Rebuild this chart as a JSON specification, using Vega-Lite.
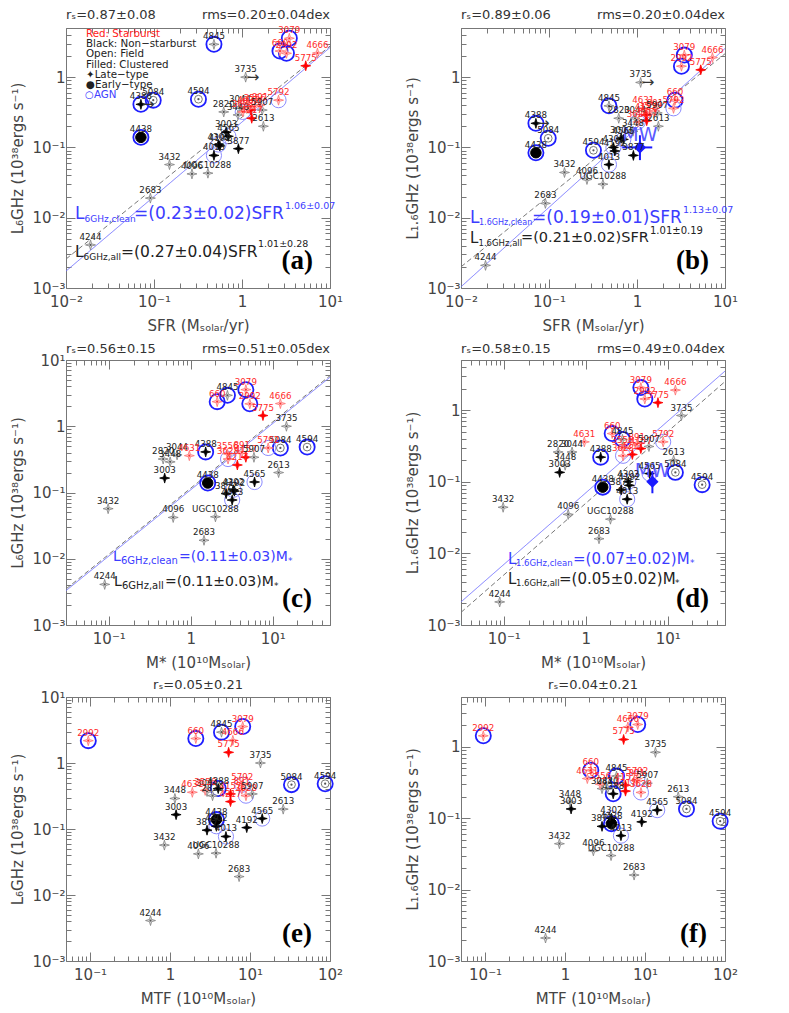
{
"$schema": "https://vega.github.io/schema/vega-lite/v6.json",
"padding": {"left": 10, "top": 8, "right": 5, "bottom": 5},
"background": "white",
"config": {
  "view": {"stroke": "#777777", "strokeWidth": 1},
  "axis": {"labelFont": "DejaVu Sans", "labelFontSize": 15, "labelColor": "#444444", "titleFont": "DejaVu Sans", "titleFontSize": 15, "titleFontWeight": "normal", "titleColor": "#444444", "tickColor": "#777777", "domain": false, "grid": false, "labelOverlap": false, "labelFlush": false, "tickSize": {"condition": {"test": "indexof([0.001,0.01,0.1,1,10,100], datum.value) >= 0", "value": -9}, "value": -5}},
  "text": {"font": "DejaVu Sans"}
},
"datasets": {
  "gal": [
    {"name": "660", "sfr": 2.7, "l6": 2.35, "l16": 0.47, "ms": 2.1, "mtf": 2.1, "sb": "Starburst", "env": "Field", "type": "Late", "agn": "strong", "lim": false},
    {"name": "891", "sfr": 1.6, "l6": 0.4, "l16": 0.33, "ms": 4.2, "mtf": 7.9, "sb": "Starburst", "env": "Field", "type": "Late", "agn": "none", "lim": false},
    {"name": "2613", "sfr": 1.75, "l6": 0.2, "l16": 0.2, "ms": 11.8, "mtf": 26, "sb": "Non", "env": "Field", "type": "Late", "agn": "none", "lim": false},
    {"name": "2683", "sfr": 0.091, "l6": 0.019, "l16": 0.016, "ms": 1.45, "mtf": 7.3, "sb": "Non", "env": "Field", "type": "Late", "agn": "none", "lim": false},
    {"name": "2820", "sfr": 0.62, "l6": 0.32, "l16": 0.26, "ms": 0.46, "mtf": 3.4, "sb": "Non", "env": "Field", "type": "Late", "agn": "none", "lim": false},
    {"name": "2992", "sfr": 3.2, "l6": 2.18, "l16": 1.43, "ms": 5.25, "mtf": 0.095, "sb": "Starburst", "env": "Field", "type": "Late", "agn": "strong", "lim": false},
    {"name": "3003", "sfr": 0.66, "l6": 0.165, "l16": 0.135, "ms": 0.48, "mtf": 1.19, "sb": "Non", "env": "Clustered", "type": "Late", "agn": "none", "lim": false},
    {"name": "3044", "sfr": 0.95, "l6": 0.37, "l16": 0.26, "ms": 0.68, "mtf": 2.9, "sb": "Non", "env": "Field", "type": "Late", "agn": "none", "lim": false},
    {"name": "3079", "sfr": 3.45, "l6": 3.57, "l16": 2.06, "ms": 4.7, "mtf": 8.1, "sb": "Starburst", "env": "Field", "type": "Late", "agn": "strong", "lim": false},
    {"name": "3432", "sfr": 0.15, "l6": 0.057, "l16": 0.044, "ms": 0.098, "mtf": 0.85, "sb": "Non", "env": "Field", "type": "Late", "agn": "none", "lim": false},
    {"name": "3448", "sfr": 0.9, "l6": 0.29, "l16": 0.17, "ms": 0.56, "mtf": 1.15, "sb": "Non", "env": "Field", "type": "Late", "agn": "none", "lim": false},
    {"name": "3556", "sfr": 1.4, "l6": 0.385, "l16": 0.3, "ms": 2.8, "mtf": 2.75, "sb": "Starburst", "env": "Field", "type": "Late", "agn": "none", "lim": false},
    {"name": "3628", "sfr": 1.02, "l6": 0.32, "l16": 0.23, "ms": 2.85, "mtf": 8.9, "sb": "Starburst", "env": "Field", "type": "Late", "agn": "weak", "lim": false},
    {"name": "3735", "sfr": 1.1, "l6": 1.0, "l16": 0.84, "ms": 14.7, "mtf": 13.5, "sb": "Non", "env": "Field", "type": "Late", "agn": "none", "lim": true},
    {"name": "3877", "sfr": 0.91, "l6": 0.096, "l16": 0.077, "ms": 2.7, "mtf": 2.9, "sb": "Non", "env": "Clustered", "type": "Late", "agn": "none", "lim": false},
    {"name": "4013", "sfr": 0.48, "l6": 0.077, "l16": 0.057, "ms": 3.2, "mtf": 5.0, "sb": "Non", "env": "Clustered", "type": "Late", "agn": "weak", "lim": false},
    {"name": "4096", "sfr": 0.27, "l6": 0.042, "l16": 0.035, "ms": 0.61, "mtf": 2.26, "sb": "Non", "env": "Field", "type": "Late", "agn": "none", "lim": false},
    {"name": "4157", "sfr": 1.26, "l6": 0.34, "l16": 0.29, "ms": 4.7, "mtf": 5.7, "sb": "Starburst", "env": "Clustered", "type": "Late", "agn": "none", "lim": false},
    {"name": "4192", "sfr": 0.56, "l6": 0.105, "l16": 0.089, "ms": 3.4, "mtf": 9.1, "sb": "Non", "env": "Clustered", "type": "Late", "agn": "none", "lim": false},
    {"name": "4217", "sfr": 1.29, "l6": 0.26, "l16": 0.24, "ms": 3.7, "mtf": 5.7, "sb": "Starburst", "env": "Clustered", "type": "Late", "agn": "none", "lim": false},
    {"name": "4244", "sfr": 0.019, "l6": 0.0041, "l16": 0.0021, "ms": 0.089, "mtf": 0.57, "sb": "Non", "env": "Field", "type": "Late", "agn": "none", "lim": false},
    {"name": "4302", "sfr": 0.54, "l6": 0.11, "l16": 0.1, "ms": 3.3, "mtf": 3.8, "sb": "Non", "env": "Clustered", "type": "Late", "agn": "weak", "lim": false},
    {"name": "4388", "sfr": 0.071, "l6": 0.41, "l16": 0.22, "ms": 1.52, "mtf": 4.0, "sb": "Non", "env": "Clustered", "type": "Late", "agn": "strong", "lim": true},
    {"name": "4438", "sfr": 0.071, "l6": 0.139, "l16": 0.084, "ms": 1.61, "mtf": 3.8, "sb": "Non", "env": "Clustered", "type": "Early", "agn": "strong", "lim": false},
    {"name": "4565", "sfr": 0.7, "l6": 0.144, "l16": 0.13, "ms": 6.0, "mtf": 14.2, "sb": "Non", "env": "Clustered", "type": "Late", "agn": "weak", "lim": false},
    {"name": "4594", "sfr": 0.32, "l6": 0.485, "l16": 0.091, "ms": 26.3, "mtf": 87, "sb": "Non", "env": "Field", "type": "Early", "agn": "strong", "lim": false},
    {"name": "4631", "sfr": 1.18, "l6": 0.36, "l16": 0.36, "ms": 0.96, "mtf": 1.9, "sb": "Starburst", "env": "Field", "type": "Late", "agn": "none", "lim": false},
    {"name": "4666", "sfr": 7.2, "l6": 2.2, "l16": 1.9, "ms": 12.4, "mtf": 6.1, "sb": "Starburst", "env": "Field", "type": "Late", "agn": "none", "lim": false},
    {"name": "4845", "sfr": 0.48, "l6": 2.93, "l16": 0.39, "ms": 2.8, "mtf": 4.4, "sb": "Non", "env": "Field", "type": "Late", "agn": "strong", "lim": false},
    {"name": "5084", "sfr": 0.098, "l6": 0.47, "l16": 0.135, "ms": 12.4, "mtf": 33, "sb": "Non", "env": "Field", "type": "Early", "agn": "strong", "lim": false},
    {"name": "5775", "sfr": 5.3, "l6": 1.45, "l16": 1.27, "ms": 7.6, "mtf": 5.4, "sb": "Starburst", "env": "Clustered", "type": "Late", "agn": "none", "lim": false},
    {"name": "5792", "sfr": 2.6, "l6": 0.47, "l16": 0.36, "ms": 8.8, "mtf": 8.0, "sb": "Starburst", "env": "Field", "type": "Late", "agn": "weak", "lim": false},
    {"name": "5907", "sfr": 1.7, "l6": 0.34, "l16": 0.31, "ms": 5.9, "mtf": 10.7, "sb": "Non", "env": "Field", "type": "Late", "agn": "none", "lim": false},
    {"name": "UGC10288", "sfr": 0.41, "l6": 0.043, "l16": 0.03, "ms": 2.0, "mtf": 3.76, "sb": "Non", "env": "Field", "type": "Late", "agn": "none", "lim": false}
  ],
  "fits": [
    {"panel": "a", "kind": "clean", "x": 0.01, "y": 0.00174}, {"panel": "a", "kind": "clean", "x": 10, "y": 2.64},
    {"panel": "a", "kind": "all", "x": 0.01, "y": 0.00258}, {"panel": "a", "kind": "all", "x": 10, "y": 2.76},
    {"panel": "b", "kind": "clean", "x": 0.01, "y": 0.00104}, {"panel": "b", "kind": "clean", "x": 10, "y": 2.56},
    {"panel": "b", "kind": "all", "x": 0.01, "y": 0.002}, {"panel": "b", "kind": "all", "x": 10, "y": 2.15},
    {"panel": "c", "kind": "clean", "x": 0.03, "y": 0.0033}, {"panel": "c", "kind": "clean", "x": 50, "y": 5.5},
    {"panel": "c", "kind": "all", "x": 0.03, "y": 0.0035}, {"panel": "c", "kind": "all", "x": 50, "y": 5.8},
    {"panel": "d", "kind": "clean", "x": 0.03, "y": 0.0021}, {"panel": "d", "kind": "clean", "x": 50, "y": 3.5},
    {"panel": "d", "kind": "all", "x": 0.03, "y": 0.0015}, {"panel": "d", "kind": "all", "x": 50, "y": 2.5}
  ],
  "mw": [
    {"name": "MW", "sfr": 1.08, "sfrlo": 0.68, "sfrhi": 1.49, "l16": 0.1, "l16lo": 0.066, "l16hi": 0.149, "ms": 6.5, "lo_d": 0.069, "hi_d": 0.141}
  ]
},
"columns": 2,
"spacing": {"row": 72, "column": 131},
"bounds": "flush",
"concat": [
{
"width": 264, "height": 260,
"resolve": {"axis": {"x": "independent", "y": "independent"}},
"layer": [
 {"data": {"name": "fits"}, "transform": [{"filter": "datum.panel==='a'"}],
  "mark": {"type": "line", "strokeWidth": 1},
  "encoding": {
   "x": {"field": "x", "type": "quantitative", "scale": {"type": "log", "domain": [0.01, 10], "nice": false}, "axis": null},
   "y": {"field": "y", "type": "quantitative", "scale": {"type": "log", "domain": [0.001, 5], "nice": false}, "axis": null},
   "color": {"field": "kind", "type": "nominal", "scale": {"domain": ["clean", "all"], "range": ["#7878ff", "#777777"]}, "legend": null},
   "strokeDash": {"field": "kind", "type": "nominal", "scale": {"domain": ["clean", "all"], "range": [[1, 0], [5, 3]]}, "legend": null}}},
 {"data": {"name": "gal"}, "transform": [{"filter": "datum.agn !== 'none'"}],
  "mark": {"type": "point", "shape": "circle", "filled": false, "opacity": 1, "size": 230},
  "encoding": {
   "x": {"field": "sfr", "type": "quantitative", "scale": {"type": "log", "domain": [0.01, 10], "nice": false}, "axis": {"orient": "bottom", "title": "SFR (Mₛₒₗₐᵣ/yr)", "values": [0.01,0.02,0.03,0.04,0.05,0.06,0.07,0.08,0.09,0.1,0.2,0.3,0.4,0.5,0.6,0.7,0.8,0.9,1,2,3,4,5,6,7,8,9,10], "labelExpr": "datum.value===0.001?'10⁻³':datum.value===0.01?'10⁻²':datum.value===0.1?'10⁻¹':datum.value===1?'1':datum.value===10?'10¹':datum.value===100?'10²':''", "labelPadding": 15, "titlePadding": 5}},
   "y": {"field": "l6", "type": "quantitative", "scale": {"type": "log", "domain": [0.001, 5], "nice": false}, "axis": {"orient": "left", "title": "L₆GHz (10³⁸ergs s⁻¹)", "values": [0.001,0.002,0.003,0.004,0.005,0.006,0.007,0.008,0.009,0.01,0.02,0.03,0.04,0.05,0.06,0.07,0.08,0.09,0.1,0.2,0.3,0.4,0.5,0.6,0.7,0.8,0.9,1,2,3,4,5], "labelExpr": "datum.value===0.001?'10⁻³':datum.value===0.01?'10⁻²':datum.value===0.1?'10⁻¹':datum.value===1?'1':datum.value===10?'10¹':datum.value===100?'10²':''", "labelPadding": 10, "titlePadding": 6}},
   "stroke": {"condition": {"test": "datum.agn==='strong'", "value": "#1e1eff"}, "value": "#8c8cff"},
   "strokeWidth": {"condition": {"test": "datum.agn==='strong'", "value": 1.8}, "value": 1}}},
 {"data": {"name": "gal"}, "transform": [{"filter": "datum.type==='Early'"}],
  "mark": {"type": "point", "shape": "circle", "filled": true, "opacity": 1, "strokeWidth": 1},
  "encoding": {
   "x": {"field": "sfr", "type": "quantitative", "axis": null},
   "y": {"field": "l6", "type": "quantitative", "axis": null},
   "size": {"condition": {"test": "datum.env==='Clustered'", "value": 110}, "value": 60},
   "fill": {"condition": {"test": "datum.env==='Clustered'", "value": "#000000"}, "value": "#ffffff"},
   "stroke": {"condition": {"test": "datum.env==='Clustered'", "value": "#000000"}, "value": "#777777"}}},
 {"data": {"name": "gal"}, "transform": [{"filter": "datum.type==='Late'"}],
  "mark": {"type": "point", "shape": "M0,-1L0.22,-0.22L1,0L0.22,0.22L0,1L-0.22,0.22L-1,0L-0.22,-0.22Z", "filled": true, "opacity": 1, "size": 100, "strokeWidth": 0.8},
  "encoding": {
   "x": {"field": "sfr", "type": "quantitative", "axis": null},
   "y": {"field": "l6", "type": "quantitative", "axis": null},
   "fill": {"condition": [{"test": "datum.env==='Clustered' && datum.sb==='Starburst'", "value": "#ff0000"}, {"test": "datum.env==='Clustered'", "value": "#000000"}, {"test": "datum.sb==='Starburst'", "value": "#ffd6d6"}], "value": "#e4e4e4"},
   "stroke": {"condition": [{"test": "datum.env==='Clustered' && datum.sb==='Starburst'", "value": "#ff0000"}, {"test": "datum.env==='Clustered'", "value": "#000000"}, {"test": "datum.sb==='Starburst'", "value": "#ff7070"}], "value": "#808080"}}},
 {"data": {"name": "gal"}, "transform": [{"filter": "datum.env==='Field'"}],
  "mark": {"type": "point", "shape": "circle", "filled": true, "opacity": 1, "size": 5},
  "encoding": {
   "x": {"field": "sfr", "type": "quantitative", "axis": null},
   "y": {"field": "l6", "type": "quantitative", "axis": null},
   "fill": {"condition": {"test": "datum.sb==='Starburst'", "value": "#ff3030"}, "value": "#555555"}}},
 {"data": {"name": "gal"}, "transform": [{"filter": "datum.lim"}],
  "mark": {"type": "text", "align": "left", "baseline": "middle", "fontSize": 15, "dx": 1, "color": "#333333"},
  "encoding": {
   "x": {"field": "sfr", "type": "quantitative", "axis": null},
   "y": {"field": "l6", "type": "quantitative", "axis": null},
   "text": {"value": "→"}}},
 {"data": {"name": "gal"},
  "mark": {"type": "text", "baseline": "bottom", "dy": -3, "fontSize": 8.7},
  "encoding": {
   "x": {"field": "sfr", "type": "quantitative", "axis": {"orient": "top", "labels": false, "title": null, "values": [0.01,0.02,0.03,0.04,0.05,0.06,0.07,0.08,0.09,0.1,0.2,0.3,0.4,0.5,0.6,0.7,0.8,0.9,1,2,3,4,5,6,7,8,9,10]}},
   "y": {"field": "l6", "type": "quantitative", "axis": {"orient": "right", "labels": false, "title": null, "values": [0.001,0.002,0.003,0.004,0.005,0.006,0.007,0.008,0.009,0.01,0.02,0.03,0.04,0.05,0.06,0.07,0.08,0.09,0.1,0.2,0.3,0.4,0.5,0.6,0.7,0.8,0.9,1,2,3,4,5]}},
   "text": {"field": "name"},
   "color": {"condition": {"test": "datum.sb==='Starburst'", "value": "#ff2a2a"}, "value": "#222222"}}},
 {"data": {"values": [{}]}, "mark": {"type": "text", "align": "left", "baseline": "alphabetic", "dy": -9, "fontSize": 13, "color": "#333333"},
  "encoding": {"x": {"datum": 0.01, "axis": null}, "y": {"datum": 5, "axis": null}, "text": {"value": "rₛ=0.87±0.08"}}},
 {"data": {"values": [{}]}, "mark": {"type": "text", "align": "right", "baseline": "alphabetic", "dy": -9, "fontSize": 13, "color": "#333333"},
  "encoding": {"x": {"datum": 10, "axis": null}, "y": {"datum": 5, "axis": null}, "text": {"value": "rms=0.20±0.04dex"}}},
 {"data": {"values": [{}]}, "mark": {"type": "text", "align": "left", "baseline": "top", "dx": 20, "dy": 1, "fontSize": 10.3, "color": "#ff2020"},
  "encoding": {"x": {"datum": 0.01, "axis": null}, "y": {"datum": 5, "axis": null}, "text": {"value": "Red: Starburst"}}},
 {"data": {"values": [{}]}, "mark": {"type": "text", "align": "left", "baseline": "top", "dx": 20, "dy": 11, "fontSize": 10.3, "lineHeight": 10.3, "color": "#222222"},
  "encoding": {"x": {"datum": 0.01, "axis": null}, "y": {"datum": 5, "axis": null}, "text": {"value": ["Black: Non−starburst", "Open: Field", "Filled: Clustered", "✦Late−type", "●Early−type"]}}},
 {"data": {"values": [{}]}, "mark": {"type": "text", "align": "left", "baseline": "top", "dx": 19, "dy": 62, "fontSize": 10.3, "color": "#4040ff"},
  "encoding": {"x": {"datum": 0.01, "axis": null}, "y": {"datum": 5, "axis": null}, "text": {"value": "○AGN"}}},
 {"data": {"values": [{}]}, "mark": {"type": "text", "align": "left", "dx": 9, "fontSize": 17, "color": "#3c3cff"},
  "encoding": {"x": {"datum": 0.01, "axis": null}, "y": {"datum": 0.0114, "axis": null}, "text": {"value": "L"}}},
 {"data": {"values": [{}]}, "mark": {"type": "text", "align": "left", "dx": 18.5, "dy": 5, "fontSize": 9, "color": "#3c3cff"},
  "encoding": {"x": {"datum": 0.01, "axis": null}, "y": {"datum": 0.0114, "axis": null}, "text": {"value": "6GHz,clean"}}},
 {"data": {"values": [{}]}, "mark": {"type": "text", "align": "left", "dx": 68, "fontSize": 17, "color": "#3c3cff"},
  "encoding": {"x": {"datum": 0.01, "axis": null}, "y": {"datum": 0.0114, "axis": null}, "text": {"value": "=(0.23±0.02)SFR"}}},
 {"data": {"values": [{}]}, "mark": {"type": "text", "align": "left", "dx": 219, "dy": -8, "fontSize": 9.5, "color": "#3c3cff"},
  "encoding": {"x": {"datum": 0.01, "axis": null}, "y": {"datum": 0.0114, "axis": null}, "text": {"value": "1.06±0.07"}}},
 {"data": {"values": [{}]}, "mark": {"type": "text", "align": "left", "dx": 9, "fontSize": 15.5, "color": "#222222"},
  "encoding": {"x": {"datum": 0.01, "axis": null}, "y": {"datum": 0.0033, "axis": null}, "text": {"value": "L"}}},
 {"data": {"values": [{}]}, "mark": {"type": "text", "align": "left", "dx": 17.5, "dy": 5, "fontSize": 9, "color": "#222222"},
  "encoding": {"x": {"datum": 0.01, "axis": null}, "y": {"datum": 0.0033, "axis": null}, "text": {"value": "6GHz,all"}}},
 {"data": {"values": [{}]}, "mark": {"type": "text", "align": "left", "dx": 55, "fontSize": 15.5, "color": "#222222"},
  "encoding": {"x": {"datum": 0.01, "axis": null}, "y": {"datum": 0.0033, "axis": null}, "text": {"value": "=(0.27±0.04)SFR"}}},
 {"data": {"values": [{}]}, "mark": {"type": "text", "align": "left", "dx": 192, "dy": -8, "fontSize": 9.5, "color": "#222222"},
  "encoding": {"x": {"datum": 0.01, "axis": null}, "y": {"datum": 0.0033, "axis": null}, "text": {"value": "1.01±0.28"}}},
 {"data": {"values": [{}]}, "mark": {"type": "text", "align": "right", "baseline": "alphabetic", "dx": -17, "dy": -19, "fontSize": 27, "fontWeight": "bold", "font": "Liberation Serif", "color": "#000000"},
  "encoding": {"x": {"datum": 10, "axis": null}, "y": {"datum": 0.001, "axis": null}, "text": {"value": "(a)"}}}
]
},
{
"width": 264, "height": 260,
"resolve": {"axis": {"x": "independent", "y": "independent"}},
"layer": [
 {"data": {"name": "fits"}, "transform": [{"filter": "datum.panel==='b'"}],
  "mark": {"type": "line", "strokeWidth": 1},
  "encoding": {
   "x": {"field": "x", "type": "quantitative", "scale": {"type": "log", "domain": [0.01, 10], "nice": false}, "axis": null},
   "y": {"field": "y", "type": "quantitative", "scale": {"type": "log", "domain": [0.001, 5], "nice": false}, "axis": null},
   "color": {"field": "kind", "type": "nominal", "scale": {"domain": ["clean", "all"], "range": ["#7878ff", "#777777"]}, "legend": null},
   "strokeDash": {"field": "kind", "type": "nominal", "scale": {"domain": ["clean", "all"], "range": [[1, 0], [5, 3]]}, "legend": null}}},
 {"data": {"name": "gal"}, "transform": [{"filter": "datum.agn !== 'none'"}],
  "mark": {"type": "point", "shape": "circle", "filled": false, "opacity": 1, "size": 230},
  "encoding": {
   "x": {"field": "sfr", "type": "quantitative", "scale": {"type": "log", "domain": [0.01, 10], "nice": false}, "axis": {"orient": "bottom", "title": "SFR (Mₛₒₗₐᵣ/yr)", "values": [0.01,0.02,0.03,0.04,0.05,0.06,0.07,0.08,0.09,0.1,0.2,0.3,0.4,0.5,0.6,0.7,0.8,0.9,1,2,3,4,5,6,7,8,9,10], "labelExpr": "datum.value===0.001?'10⁻³':datum.value===0.01?'10⁻²':datum.value===0.1?'10⁻¹':datum.value===1?'1':datum.value===10?'10¹':datum.value===100?'10²':''", "labelPadding": 15, "titlePadding": 5}},
   "y": {"field": "l16", "type": "quantitative", "scale": {"type": "log", "domain": [0.001, 5], "nice": false}, "axis": {"orient": "left", "title": "L₁.₆GHz (10³⁸ergs s⁻¹)", "values": [0.001,0.002,0.003,0.004,0.005,0.006,0.007,0.008,0.009,0.01,0.02,0.03,0.04,0.05,0.06,0.07,0.08,0.09,0.1,0.2,0.3,0.4,0.5,0.6,0.7,0.8,0.9,1,2,3,4,5], "labelExpr": "datum.value===0.001?'10⁻³':datum.value===0.01?'10⁻²':datum.value===0.1?'10⁻¹':datum.value===1?'1':datum.value===10?'10¹':datum.value===100?'10²':''", "labelPadding": 10, "titlePadding": 6}},
   "stroke": {"condition": {"test": "datum.agn==='strong'", "value": "#1e1eff"}, "value": "#8c8cff"},
   "strokeWidth": {"condition": {"test": "datum.agn==='strong'", "value": 1.8}, "value": 1}}},
 {"data": {"name": "gal"}, "transform": [{"filter": "datum.type==='Early'"}],
  "mark": {"type": "point", "shape": "circle", "filled": true, "opacity": 1, "strokeWidth": 1},
  "encoding": {
   "x": {"field": "sfr", "type": "quantitative", "axis": null},
   "y": {"field": "l16", "type": "quantitative", "axis": null},
   "size": {"condition": {"test": "datum.env==='Clustered'", "value": 110}, "value": 60},
   "fill": {"condition": {"test": "datum.env==='Clustered'", "value": "#000000"}, "value": "#ffffff"},
   "stroke": {"condition": {"test": "datum.env==='Clustered'", "value": "#000000"}, "value": "#777777"}}},
 {"data": {"name": "gal"}, "transform": [{"filter": "datum.type==='Late'"}],
  "mark": {"type": "point", "shape": "M0,-1L0.22,-0.22L1,0L0.22,0.22L0,1L-0.22,0.22L-1,0L-0.22,-0.22Z", "filled": true, "opacity": 1, "size": 100, "strokeWidth": 0.8},
  "encoding": {
   "x": {"field": "sfr", "type": "quantitative", "axis": null},
   "y": {"field": "l16", "type": "quantitative", "axis": null},
   "fill": {"condition": [{"test": "datum.env==='Clustered' && datum.sb==='Starburst'", "value": "#ff0000"}, {"test": "datum.env==='Clustered'", "value": "#000000"}, {"test": "datum.sb==='Starburst'", "value": "#ffd6d6"}], "value": "#e4e4e4"},
   "stroke": {"condition": [{"test": "datum.env==='Clustered' && datum.sb==='Starburst'", "value": "#ff0000"}, {"test": "datum.env==='Clustered'", "value": "#000000"}, {"test": "datum.sb==='Starburst'", "value": "#ff7070"}], "value": "#808080"}}},
 {"data": {"name": "gal"}, "transform": [{"filter": "datum.env==='Field'"}],
  "mark": {"type": "point", "shape": "circle", "filled": true, "opacity": 1, "size": 5},
  "encoding": {
   "x": {"field": "sfr", "type": "quantitative", "axis": null},
   "y": {"field": "l16", "type": "quantitative", "axis": null},
   "fill": {"condition": {"test": "datum.sb==='Starburst'", "value": "#ff3030"}, "value": "#555555"}}},
 {"data": {"name": "gal"}, "transform": [{"filter": "datum.lim"}],
  "mark": {"type": "text", "align": "left", "baseline": "middle", "fontSize": 15, "dx": 1, "color": "#333333"},
  "encoding": {
   "x": {"field": "sfr", "type": "quantitative", "axis": null},
   "y": {"field": "l16", "type": "quantitative", "axis": null},
   "text": {"value": "→"}}},
 {"data": {"name": "mw"}, "mark": {"type": "rule", "color": "#1a1aff", "strokeWidth": 2},
  "encoding": {"x": {"field": "sfrlo", "type": "quantitative", "axis": null}, "x2": {"field": "sfrhi"}, "y": {"field": "l16", "type": "quantitative", "axis": null}}},
 {"data": {"name": "mw"}, "mark": {"type": "rule", "color": "#1a1aff", "strokeWidth": 2},
  "encoding": {"x": {"field": "sfr", "type": "quantitative", "axis": null}, "y": {"field": "l16lo", "type": "quantitative", "axis": null}, "y2": {"field": "l16hi"}}},
 {"data": {"name": "mw"}, "mark": {"type": "point", "shape": "diamond", "filled": true, "opacity": 1, "size": 150, "color": "#1a1aff"},
  "encoding": {"x": {"field": "sfr", "type": "quantitative", "axis": null}, "y": {"field": "l16", "type": "quantitative", "axis": null}}},
 {"data": {"name": "mw"}, "mark": {"type": "text", "baseline": "middle", "dy": -12, "fontSize": 19, "color": "#5a5aff"},
  "encoding": {"x": {"field": "sfr", "type": "quantitative", "axis": null}, "y": {"field": "l16", "type": "quantitative", "axis": null}, "text": {"field": "name"}}},
 {"data": {"name": "gal"},
  "mark": {"type": "text", "baseline": "bottom", "dy": -3, "fontSize": 8.7},
  "encoding": {
   "x": {"field": "sfr", "type": "quantitative", "axis": {"orient": "top", "labels": false, "title": null, "values": [0.01,0.02,0.03,0.04,0.05,0.06,0.07,0.08,0.09,0.1,0.2,0.3,0.4,0.5,0.6,0.7,0.8,0.9,1,2,3,4,5,6,7,8,9,10]}},
   "y": {"field": "l16", "type": "quantitative", "axis": {"orient": "right", "labels": false, "title": null, "values": [0.001,0.002,0.003,0.004,0.005,0.006,0.007,0.008,0.009,0.01,0.02,0.03,0.04,0.05,0.06,0.07,0.08,0.09,0.1,0.2,0.3,0.4,0.5,0.6,0.7,0.8,0.9,1,2,3,4,5]}},
   "text": {"field": "name"},
   "color": {"condition": {"test": "datum.sb==='Starburst'", "value": "#ff2a2a"}, "value": "#222222"}}},
 {"data": {"values": [{}]}, "mark": {"type": "text", "align": "left", "baseline": "alphabetic", "dy": -9, "fontSize": 13, "color": "#333333"},
  "encoding": {"x": {"datum": 0.01, "axis": null}, "y": {"datum": 5, "axis": null}, "text": {"value": "rₛ=0.89±0.06"}}},
 {"data": {"values": [{}]}, "mark": {"type": "text", "align": "right", "baseline": "alphabetic", "dy": -9, "fontSize": 13, "color": "#333333"},
  "encoding": {"x": {"datum": 10, "axis": null}, "y": {"datum": 5, "axis": null}, "text": {"value": "rms=0.20±0.04dex"}}},
 {"data": {"values": [{}]}, "mark": {"type": "text", "align": "left", "dx": 9, "fontSize": 17, "color": "#3c3cff"},
  "encoding": {"x": {"datum": 0.01, "axis": null}, "y": {"datum": 0.01, "axis": null}, "text": {"value": "L"}}},
 {"data": {"values": [{}]}, "mark": {"type": "text", "align": "left", "dx": 18, "dy": 5, "fontSize": 8, "color": "#3c3cff"},
  "encoding": {"x": {"datum": 0.01, "axis": null}, "y": {"datum": 0.01, "axis": null}, "text": {"value": "1.6GHz,clean"}}},
 {"data": {"values": [{}]}, "mark": {"type": "text", "align": "left", "dx": 71, "fontSize": 17, "color": "#3c3cff"},
  "encoding": {"x": {"datum": 0.01, "axis": null}, "y": {"datum": 0.01, "axis": null}, "text": {"value": "=(0.19±0.01)SFR"}}},
 {"data": {"values": [{}]}, "mark": {"type": "text", "align": "left", "dx": 222, "dy": -8, "fontSize": 9.5, "color": "#3c3cff"},
  "encoding": {"x": {"datum": 0.01, "axis": null}, "y": {"datum": 0.01, "axis": null}, "text": {"value": "1.13±0.07"}}},
 {"data": {"values": [{}]}, "mark": {"type": "text", "align": "left", "dx": 9, "fontSize": 15, "color": "#222222"},
  "encoding": {"x": {"datum": 0.01, "axis": null}, "y": {"datum": 0.0052, "axis": null}, "text": {"value": "L"}}},
 {"data": {"values": [{}]}, "mark": {"type": "text", "align": "left", "dx": 17.5, "dy": 5, "fontSize": 8.5, "color": "#222222"},
  "encoding": {"x": {"datum": 0.01, "axis": null}, "y": {"datum": 0.0052, "axis": null}, "text": {"value": "1.6GHz,all"}}},
 {"data": {"values": [{}]}, "mark": {"type": "text", "align": "left", "dx": 60, "fontSize": 14.5, "color": "#222222"},
  "encoding": {"x": {"datum": 0.01, "axis": null}, "y": {"datum": 0.0052, "axis": null}, "text": {"value": "=(0.21±0.02)SFR"}}},
 {"data": {"values": [{}]}, "mark": {"type": "text", "align": "left", "dx": 189, "dy": -7, "fontSize": 10, "color": "#222222"},
  "encoding": {"x": {"datum": 0.01, "axis": null}, "y": {"datum": 0.0052, "axis": null}, "text": {"value": "1.01±0.19"}}},
 {"data": {"values": [{}]}, "mark": {"type": "text", "align": "right", "baseline": "alphabetic", "dx": -16, "dy": -19, "fontSize": 27, "fontWeight": "bold", "font": "Liberation Serif", "color": "#000000"},
  "encoding": {"x": {"datum": 10, "axis": null}, "y": {"datum": 0.001, "axis": null}, "text": {"value": "(b)"}}}
]
},
{
"width": 264, "height": 265,
"resolve": {"axis": {"x": "independent", "y": "independent"}},
"layer": [
 {"data": {"name": "fits"}, "transform": [{"filter": "datum.panel==='c'"}],
  "mark": {"type": "line", "strokeWidth": 1},
  "encoding": {
   "x": {"field": "x", "type": "quantitative", "scale": {"type": "log", "domain": [0.03, 50], "nice": false}, "axis": null},
   "y": {"field": "y", "type": "quantitative", "scale": {"type": "log", "domain": [0.001, 10], "nice": false}, "axis": null},
   "color": {"field": "kind", "type": "nominal", "scale": {"domain": ["clean", "all"], "range": ["#7878ff", "#777777"]}, "legend": null},
   "strokeDash": {"field": "kind", "type": "nominal", "scale": {"domain": ["clean", "all"], "range": [[1, 0], [5, 3]]}, "legend": null}}},
 {"data": {"name": "gal"}, "transform": [{"filter": "datum.agn !== 'none'"}],
  "mark": {"type": "point", "shape": "circle", "filled": false, "opacity": 1, "size": 230},
  "encoding": {
   "x": {"field": "ms", "type": "quantitative", "scale": {"type": "log", "domain": [0.03, 50], "nice": false}, "axis": {"orient": "bottom", "title": "M* (10¹⁰Mₛₒₗₐᵣ)", "values": [0.03,0.04,0.05,0.06,0.07,0.08,0.09,0.1,0.2,0.3,0.4,0.5,0.6,0.7,0.8,0.9,1,2,3,4,5,6,7,8,9,10,20,30,40,50], "labelExpr": "datum.value===0.001?'10⁻³':datum.value===0.01?'10⁻²':datum.value===0.1?'10⁻¹':datum.value===1?'1':datum.value===10?'10¹':datum.value===100?'10²':''", "labelPadding": 15, "titlePadding": 5}},
   "y": {"field": "l6", "type": "quantitative", "scale": {"type": "log", "domain": [0.001, 10], "nice": false}, "axis": {"orient": "left", "title": "L₆GHz (10³⁸ergs s⁻¹)", "values": [0.001,0.002,0.003,0.004,0.005,0.006,0.007,0.008,0.009,0.01,0.02,0.03,0.04,0.05,0.06,0.07,0.08,0.09,0.1,0.2,0.3,0.4,0.5,0.6,0.7,0.8,0.9,1,2,3,4,5,6,7,8,9,10], "labelExpr": "datum.value===0.001?'10⁻³':datum.value===0.01?'10⁻²':datum.value===0.1?'10⁻¹':datum.value===1?'1':datum.value===10?'10¹':datum.value===100?'10²':''", "labelPadding": 10, "titlePadding": 6}},
   "stroke": {"condition": {"test": "datum.agn==='strong'", "value": "#1e1eff"}, "value": "#8c8cff"},
   "strokeWidth": {"condition": {"test": "datum.agn==='strong'", "value": 1.8}, "value": 1}}},
 {"data": {"name": "gal"}, "transform": [{"filter": "datum.type==='Early'"}],
  "mark": {"type": "point", "shape": "circle", "filled": true, "opacity": 1, "strokeWidth": 1},
  "encoding": {
   "x": {"field": "ms", "type": "quantitative", "axis": null},
   "y": {"field": "l6", "type": "quantitative", "axis": null},
   "size": {"condition": {"test": "datum.env==='Clustered'", "value": 110}, "value": 60},
   "fill": {"condition": {"test": "datum.env==='Clustered'", "value": "#000000"}, "value": "#ffffff"},
   "stroke": {"condition": {"test": "datum.env==='Clustered'", "value": "#000000"}, "value": "#777777"}}},
 {"data": {"name": "gal"}, "transform": [{"filter": "datum.type==='Late'"}],
  "mark": {"type": "point", "shape": "M0,-1L0.22,-0.22L1,0L0.22,0.22L0,1L-0.22,0.22L-1,0L-0.22,-0.22Z", "filled": true, "opacity": 1, "size": 100, "strokeWidth": 0.8},
  "encoding": {
   "x": {"field": "ms", "type": "quantitative", "axis": null},
   "y": {"field": "l6", "type": "quantitative", "axis": null},
   "fill": {"condition": [{"test": "datum.env==='Clustered' && datum.sb==='Starburst'", "value": "#ff0000"}, {"test": "datum.env==='Clustered'", "value": "#000000"}, {"test": "datum.sb==='Starburst'", "value": "#ffd6d6"}], "value": "#e4e4e4"},
   "stroke": {"condition": [{"test": "datum.env==='Clustered' && datum.sb==='Starburst'", "value": "#ff0000"}, {"test": "datum.env==='Clustered'", "value": "#000000"}, {"test": "datum.sb==='Starburst'", "value": "#ff7070"}], "value": "#808080"}}},
 {"data": {"name": "gal"}, "transform": [{"filter": "datum.env==='Field'"}],
  "mark": {"type": "point", "shape": "circle", "filled": true, "opacity": 1, "size": 5},
  "encoding": {
   "x": {"field": "ms", "type": "quantitative", "axis": null},
   "y": {"field": "l6", "type": "quantitative", "axis": null},
   "fill": {"condition": {"test": "datum.sb==='Starburst'", "value": "#ff3030"}, "value": "#555555"}}},
 {"data": {"name": "gal"},
  "mark": {"type": "text", "baseline": "bottom", "dy": -3, "fontSize": 8.7},
  "encoding": {
   "x": {"field": "ms", "type": "quantitative", "axis": {"orient": "top", "labels": false, "title": null, "values": [0.03,0.04,0.05,0.06,0.07,0.08,0.09,0.1,0.2,0.3,0.4,0.5,0.6,0.7,0.8,0.9,1,2,3,4,5,6,7,8,9,10,20,30,40,50]}},
   "y": {"field": "l6", "type": "quantitative", "axis": {"orient": "right", "labels": false, "title": null, "values": [0.001,0.002,0.003,0.004,0.005,0.006,0.007,0.008,0.009,0.01,0.02,0.03,0.04,0.05,0.06,0.07,0.08,0.09,0.1,0.2,0.3,0.4,0.5,0.6,0.7,0.8,0.9,1,2,3,4,5,6,7,8,9,10]}},
   "text": {"field": "name"},
   "color": {"condition": {"test": "datum.sb==='Starburst'", "value": "#ff2a2a"}, "value": "#222222"}}},
 {"data": {"values": [{}]}, "mark": {"type": "text", "align": "left", "baseline": "alphabetic", "dy": -7, "fontSize": 13, "color": "#333333"},
  "encoding": {"x": {"datum": 0.03, "axis": null}, "y": {"datum": 10, "axis": null}, "text": {"value": "rₛ=0.56±0.15"}}},
 {"data": {"values": [{}]}, "mark": {"type": "text", "align": "right", "baseline": "alphabetic", "dy": -7, "fontSize": 13, "color": "#333333"},
  "encoding": {"x": {"datum": 50, "axis": null}, "y": {"datum": 10, "axis": null}, "text": {"value": "rms=0.51±0.05dex"}}},
 {"data": {"values": [{}]}, "mark": {"type": "text", "align": "left", "dx": 47, "fontSize": 14, "color": "#3c3cff"},
  "encoding": {"x": {"datum": 0.03, "axis": null}, "y": {"datum": 0.0105, "axis": null}, "text": {"value": "L"}}},
 {"data": {"values": [{}]}, "mark": {"type": "text", "align": "left", "dx": 55, "dy": 4, "fontSize": 10, "color": "#3c3cff"},
  "encoding": {"x": {"datum": 0.03, "axis": null}, "y": {"datum": 0.0105, "axis": null}, "text": {"value": "6GHz,clean"}}},
 {"data": {"values": [{}]}, "mark": {"type": "text", "align": "left", "dx": 113, "fontSize": 14, "color": "#3c3cff"},
  "encoding": {"x": {"datum": 0.03, "axis": null}, "y": {"datum": 0.0105, "axis": null}, "text": {"value": "=(0.11±0.03)M"}}},
 {"data": {"values": [{}]}, "mark": {"type": "text", "align": "left", "dx": 222, "dy": 4, "fontSize": 9, "color": "#3c3cff"},
  "encoding": {"x": {"datum": 0.03, "axis": null}, "y": {"datum": 0.0105, "axis": null}, "text": {"value": "*"}}},
 {"data": {"values": [{}]}, "mark": {"type": "text", "align": "left", "dx": 48, "fontSize": 14, "color": "#222222"},
  "encoding": {"x": {"datum": 0.03, "axis": null}, "y": {"datum": 0.0044, "axis": null}, "text": {"value": "L"}}},
 {"data": {"values": [{}]}, "mark": {"type": "text", "align": "left", "dx": 56, "dy": 4, "fontSize": 10, "color": "#222222"},
  "encoding": {"x": {"datum": 0.03, "axis": null}, "y": {"datum": 0.0044, "axis": null}, "text": {"value": "6GHz,all"}}},
 {"data": {"values": [{}]}, "mark": {"type": "text", "align": "left", "dx": 99, "fontSize": 14, "color": "#222222"},
  "encoding": {"x": {"datum": 0.03, "axis": null}, "y": {"datum": 0.0044, "axis": null}, "text": {"value": "=(0.11±0.03)M"}}},
 {"data": {"values": [{}]}, "mark": {"type": "text", "align": "left", "dx": 208, "dy": 4, "fontSize": 9, "color": "#222222"},
  "encoding": {"x": {"datum": 0.03, "axis": null}, "y": {"datum": 0.0044, "axis": null}, "text": {"value": "*"}}},
 {"data": {"values": [{}]}, "mark": {"type": "text", "align": "right", "baseline": "alphabetic", "dx": -18, "dy": -18, "fontSize": 27, "fontWeight": "bold", "font": "Liberation Serif", "color": "#000000"},
  "encoding": {"x": {"datum": 50, "axis": null}, "y": {"datum": 0.001, "axis": null}, "text": {"value": "(c)"}}}
]
},
{
"width": 264, "height": 265,
"resolve": {"axis": {"x": "independent", "y": "independent"}},
"layer": [
 {"data": {"name": "fits"}, "transform": [{"filter": "datum.panel==='d'"}],
  "mark": {"type": "line", "strokeWidth": 1},
  "encoding": {
   "x": {"field": "x", "type": "quantitative", "scale": {"type": "log", "domain": [0.03, 50], "nice": false}, "axis": null},
   "y": {"field": "y", "type": "quantitative", "scale": {"type": "log", "domain": [0.001, 5], "nice": false}, "axis": null},
   "color": {"field": "kind", "type": "nominal", "scale": {"domain": ["clean", "all"], "range": ["#7878ff", "#777777"]}, "legend": null},
   "strokeDash": {"field": "kind", "type": "nominal", "scale": {"domain": ["clean", "all"], "range": [[1, 0], [5, 3]]}, "legend": null}}},
 {"data": {"name": "gal"}, "transform": [{"filter": "datum.agn !== 'none'"}],
  "mark": {"type": "point", "shape": "circle", "filled": false, "opacity": 1, "size": 230},
  "encoding": {
   "x": {"field": "ms", "type": "quantitative", "scale": {"type": "log", "domain": [0.03, 50], "nice": false}, "axis": {"orient": "bottom", "title": "M* (10¹⁰Mₛₒₗₐᵣ)", "values": [0.03,0.04,0.05,0.06,0.07,0.08,0.09,0.1,0.2,0.3,0.4,0.5,0.6,0.7,0.8,0.9,1,2,3,4,5,6,7,8,9,10,20,30,40,50], "labelExpr": "datum.value===0.001?'10⁻³':datum.value===0.01?'10⁻²':datum.value===0.1?'10⁻¹':datum.value===1?'1':datum.value===10?'10¹':datum.value===100?'10²':''", "labelPadding": 15, "titlePadding": 5}},
   "y": {"field": "l16", "type": "quantitative", "scale": {"type": "log", "domain": [0.001, 5], "nice": false}, "axis": {"orient": "left", "title": "L₁.₆GHz (10³⁸ergs s⁻¹)", "values": [0.001,0.002,0.003,0.004,0.005,0.006,0.007,0.008,0.009,0.01,0.02,0.03,0.04,0.05,0.06,0.07,0.08,0.09,0.1,0.2,0.3,0.4,0.5,0.6,0.7,0.8,0.9,1,2,3,4,5], "labelExpr": "datum.value===0.001?'10⁻³':datum.value===0.01?'10⁻²':datum.value===0.1?'10⁻¹':datum.value===1?'1':datum.value===10?'10¹':datum.value===100?'10²':''", "labelPadding": 10, "titlePadding": 6}},
   "stroke": {"condition": {"test": "datum.agn==='strong'", "value": "#1e1eff"}, "value": "#8c8cff"},
   "strokeWidth": {"condition": {"test": "datum.agn==='strong'", "value": 1.8}, "value": 1}}},
 {"data": {"name": "gal"}, "transform": [{"filter": "datum.type==='Early'"}],
  "mark": {"type": "point", "shape": "circle", "filled": true, "opacity": 1, "strokeWidth": 1},
  "encoding": {
   "x": {"field": "ms", "type": "quantitative", "axis": null},
   "y": {"field": "l16", "type": "quantitative", "axis": null},
   "size": {"condition": {"test": "datum.env==='Clustered'", "value": 110}, "value": 60},
   "fill": {"condition": {"test": "datum.env==='Clustered'", "value": "#000000"}, "value": "#ffffff"},
   "stroke": {"condition": {"test": "datum.env==='Clustered'", "value": "#000000"}, "value": "#777777"}}},
 {"data": {"name": "gal"}, "transform": [{"filter": "datum.type==='Late'"}],
  "mark": {"type": "point", "shape": "M0,-1L0.22,-0.22L1,0L0.22,0.22L0,1L-0.22,0.22L-1,0L-0.22,-0.22Z", "filled": true, "opacity": 1, "size": 100, "strokeWidth": 0.8},
  "encoding": {
   "x": {"field": "ms", "type": "quantitative", "axis": null},
   "y": {"field": "l16", "type": "quantitative", "axis": null},
   "fill": {"condition": [{"test": "datum.env==='Clustered' && datum.sb==='Starburst'", "value": "#ff0000"}, {"test": "datum.env==='Clustered'", "value": "#000000"}, {"test": "datum.sb==='Starburst'", "value": "#ffd6d6"}], "value": "#e4e4e4"},
   "stroke": {"condition": [{"test": "datum.env==='Clustered' && datum.sb==='Starburst'", "value": "#ff0000"}, {"test": "datum.env==='Clustered'", "value": "#000000"}, {"test": "datum.sb==='Starburst'", "value": "#ff7070"}], "value": "#808080"}}},
 {"data": {"name": "gal"}, "transform": [{"filter": "datum.env==='Field'"}],
  "mark": {"type": "point", "shape": "circle", "filled": true, "opacity": 1, "size": 5},
  "encoding": {
   "x": {"field": "ms", "type": "quantitative", "axis": null},
   "y": {"field": "l16", "type": "quantitative", "axis": null},
   "fill": {"condition": {"test": "datum.sb==='Starburst'", "value": "#ff3030"}, "value": "#555555"}}},
 {"data": {"name": "mw"}, "mark": {"type": "rule", "color": "#1a1aff", "strokeWidth": 2},
  "encoding": {"x": {"field": "ms", "type": "quantitative", "axis": null}, "y": {"field": "lo_d", "type": "quantitative", "axis": null}, "y2": {"field": "hi_d"}}},
 {"data": {"name": "mw"}, "mark": {"type": "point", "shape": "diamond", "filled": true, "opacity": 1, "size": 150, "color": "#1a1aff"},
  "encoding": {"x": {"field": "ms", "type": "quantitative", "axis": null}, "y": {"field": "l16", "type": "quantitative", "axis": null}}},
 {"data": {"name": "mw"}, "mark": {"type": "text", "baseline": "middle", "dy": -11, "fontSize": 19, "color": "#5a5aff"},
  "encoding": {"x": {"field": "ms", "type": "quantitative", "axis": null}, "y": {"field": "l16", "type": "quantitative", "axis": null}, "text": {"field": "name"}}},
 {"data": {"name": "gal"},
  "mark": {"type": "text", "baseline": "bottom", "dy": -3, "fontSize": 8.7},
  "encoding": {
   "x": {"field": "ms", "type": "quantitative", "axis": {"orient": "top", "labels": false, "title": null, "values": [0.03,0.04,0.05,0.06,0.07,0.08,0.09,0.1,0.2,0.3,0.4,0.5,0.6,0.7,0.8,0.9,1,2,3,4,5,6,7,8,9,10,20,30,40,50]}},
   "y": {"field": "l16", "type": "quantitative", "axis": {"orient": "right", "labels": false, "title": null, "values": [0.001,0.002,0.003,0.004,0.005,0.006,0.007,0.008,0.009,0.01,0.02,0.03,0.04,0.05,0.06,0.07,0.08,0.09,0.1,0.2,0.3,0.4,0.5,0.6,0.7,0.8,0.9,1,2,3,4,5]}},
   "text": {"field": "name"},
   "color": {"condition": {"test": "datum.sb==='Starburst'", "value": "#ff2a2a"}, "value": "#222222"}}},
 {"data": {"values": [{}]}, "mark": {"type": "text", "align": "left", "baseline": "alphabetic", "dy": -7, "fontSize": 13, "color": "#333333"},
  "encoding": {"x": {"datum": 0.03, "axis": null}, "y": {"datum": 5, "axis": null}, "text": {"value": "rₛ=0.58±0.15"}}},
 {"data": {"values": [{}]}, "mark": {"type": "text", "align": "right", "baseline": "alphabetic", "dy": -7, "fontSize": 13, "color": "#333333"},
  "encoding": {"x": {"datum": 50, "axis": null}, "y": {"datum": 5, "axis": null}, "text": {"value": "rms=0.49±0.04dex"}}},
 {"data": {"values": [{}]}, "mark": {"type": "text", "align": "left", "dx": 47, "fontSize": 15, "color": "#3c3cff"},
  "encoding": {"x": {"datum": 0.03, "axis": null}, "y": {"datum": 0.0084, "axis": null}, "text": {"value": "L"}}},
 {"data": {"values": [{}]}, "mark": {"type": "text", "align": "left", "dx": 55, "dy": 4, "fontSize": 8.5, "color": "#3c3cff"},
  "encoding": {"x": {"datum": 0.03, "axis": null}, "y": {"datum": 0.0084, "axis": null}, "text": {"value": "1.6GHz,clean"}}},
 {"data": {"values": [{}]}, "mark": {"type": "text", "align": "left", "dx": 112, "fontSize": 15, "color": "#3c3cff"},
  "encoding": {"x": {"datum": 0.03, "axis": null}, "y": {"datum": 0.0084, "axis": null}, "text": {"value": "=(0.07±0.02)M"}}},
 {"data": {"values": [{}]}, "mark": {"type": "text", "align": "left", "dx": 229, "dy": 4, "fontSize": 9, "color": "#3c3cff"},
  "encoding": {"x": {"datum": 0.03, "axis": null}, "y": {"datum": 0.0084, "axis": null}, "text": {"value": "*"}}},
 {"data": {"values": [{}]}, "mark": {"type": "text", "align": "left", "dx": 47, "fontSize": 15, "color": "#222222"},
  "encoding": {"x": {"datum": 0.03, "axis": null}, "y": {"datum": 0.0044, "axis": null}, "text": {"value": "L"}}},
 {"data": {"values": [{}]}, "mark": {"type": "text", "align": "left", "dx": 55, "dy": 4, "fontSize": 8.5, "color": "#222222"},
  "encoding": {"x": {"datum": 0.03, "axis": null}, "y": {"datum": 0.0044, "axis": null}, "text": {"value": "1.6GHz,all"}}},
 {"data": {"values": [{}]}, "mark": {"type": "text", "align": "left", "dx": 98, "fontSize": 15, "color": "#222222"},
  "encoding": {"x": {"datum": 0.03, "axis": null}, "y": {"datum": 0.0044, "axis": null}, "text": {"value": "=(0.05±0.02)M"}}},
 {"data": {"values": [{}]}, "mark": {"type": "text", "align": "left", "dx": 214, "dy": 4, "fontSize": 9, "color": "#222222"},
  "encoding": {"x": {"datum": 0.03, "axis": null}, "y": {"datum": 0.0044, "axis": null}, "text": {"value": "*"}}},
 {"data": {"values": [{}]}, "mark": {"type": "text", "align": "right", "baseline": "alphabetic", "dx": -16, "dy": -18, "fontSize": 27, "fontWeight": "bold", "font": "Liberation Serif", "color": "#000000"},
  "encoding": {"x": {"datum": 50, "axis": null}, "y": {"datum": 0.001, "axis": null}, "text": {"value": "(d)"}}}
]
},
{
"width": 264, "height": 264,
"resolve": {"axis": {"x": "independent", "y": "independent"}},
"layer": [
 {"data": {"name": "gal"}, "transform": [{"filter": "datum.agn !== 'none'"}],
  "mark": {"type": "point", "shape": "circle", "filled": false, "opacity": 1, "size": 230},
  "encoding": {
   "x": {"field": "mtf", "type": "quantitative", "scale": {"type": "log", "domain": [0.05, 100], "nice": false}, "axis": {"orient": "bottom", "title": "MTF (10¹⁰Mₛₒₗₐᵣ)", "values": [0.05,0.06,0.07,0.08,0.09,0.1,0.2,0.3,0.4,0.5,0.6,0.7,0.8,0.9,1,2,3,4,5,6,7,8,9,10,20,30,40,50,60,70,80,90,100], "labelExpr": "datum.value===0.001?'10⁻³':datum.value===0.01?'10⁻²':datum.value===0.1?'10⁻¹':datum.value===1?'1':datum.value===10?'10¹':datum.value===100?'10²':''", "labelPadding": 15, "titlePadding": 5}},
   "y": {"field": "l6", "type": "quantitative", "scale": {"type": "log", "domain": [0.001, 10], "nice": false}, "axis": {"orient": "left", "title": "L₆GHz (10³⁸ergs s⁻¹)", "values": [0.001,0.002,0.003,0.004,0.005,0.006,0.007,0.008,0.009,0.01,0.02,0.03,0.04,0.05,0.06,0.07,0.08,0.09,0.1,0.2,0.3,0.4,0.5,0.6,0.7,0.8,0.9,1,2,3,4,5,6,7,8,9,10], "labelExpr": "datum.value===0.001?'10⁻³':datum.value===0.01?'10⁻²':datum.value===0.1?'10⁻¹':datum.value===1?'1':datum.value===10?'10¹':datum.value===100?'10²':''", "labelPadding": 10, "titlePadding": 6}},
   "stroke": {"condition": {"test": "datum.agn==='strong'", "value": "#1e1eff"}, "value": "#8c8cff"},
   "strokeWidth": {"condition": {"test": "datum.agn==='strong'", "value": 1.8}, "value": 1}}},
 {"data": {"name": "gal"}, "transform": [{"filter": "datum.type==='Early'"}],
  "mark": {"type": "point", "shape": "circle", "filled": true, "opacity": 1, "strokeWidth": 1},
  "encoding": {
   "x": {"field": "mtf", "type": "quantitative", "axis": null},
   "y": {"field": "l6", "type": "quantitative", "axis": null},
   "size": {"condition": {"test": "datum.env==='Clustered'", "value": 110}, "value": 60},
   "fill": {"condition": {"test": "datum.env==='Clustered'", "value": "#000000"}, "value": "#ffffff"},
   "stroke": {"condition": {"test": "datum.env==='Clustered'", "value": "#000000"}, "value": "#777777"}}},
 {"data": {"name": "gal"}, "transform": [{"filter": "datum.type==='Late'"}],
  "mark": {"type": "point", "shape": "M0,-1L0.22,-0.22L1,0L0.22,0.22L0,1L-0.22,0.22L-1,0L-0.22,-0.22Z", "filled": true, "opacity": 1, "size": 100, "strokeWidth": 0.8},
  "encoding": {
   "x": {"field": "mtf", "type": "quantitative", "axis": null},
   "y": {"field": "l6", "type": "quantitative", "axis": null},
   "fill": {"condition": [{"test": "datum.env==='Clustered' && datum.sb==='Starburst'", "value": "#ff0000"}, {"test": "datum.env==='Clustered'", "value": "#000000"}, {"test": "datum.sb==='Starburst'", "value": "#ffd6d6"}], "value": "#e4e4e4"},
   "stroke": {"condition": [{"test": "datum.env==='Clustered' && datum.sb==='Starburst'", "value": "#ff0000"}, {"test": "datum.env==='Clustered'", "value": "#000000"}, {"test": "datum.sb==='Starburst'", "value": "#ff7070"}], "value": "#808080"}}},
 {"data": {"name": "gal"}, "transform": [{"filter": "datum.env==='Field'"}],
  "mark": {"type": "point", "shape": "circle", "filled": true, "opacity": 1, "size": 5},
  "encoding": {
   "x": {"field": "mtf", "type": "quantitative", "axis": null},
   "y": {"field": "l6", "type": "quantitative", "axis": null},
   "fill": {"condition": {"test": "datum.sb==='Starburst'", "value": "#ff3030"}, "value": "#555555"}}},
 {"data": {"name": "gal"},
  "mark": {"type": "text", "baseline": "bottom", "dy": -3, "fontSize": 8.7},
  "encoding": {
   "x": {"field": "mtf", "type": "quantitative", "axis": {"orient": "top", "labels": false, "title": null, "values": [0.05,0.06,0.07,0.08,0.09,0.1,0.2,0.3,0.4,0.5,0.6,0.7,0.8,0.9,1,2,3,4,5,6,7,8,9,10,20,30,40,50,60,70,80,90,100]}},
   "y": {"field": "l6", "type": "quantitative", "axis": {"orient": "right", "labels": false, "title": null, "values": [0.001,0.002,0.003,0.004,0.005,0.006,0.007,0.008,0.009,0.01,0.02,0.03,0.04,0.05,0.06,0.07,0.08,0.09,0.1,0.2,0.3,0.4,0.5,0.6,0.7,0.8,0.9,1,2,3,4,5,6,7,8,9,10]}},
   "text": {"field": "name"},
   "color": {"condition": {"test": "datum.sb==='Starburst'", "value": "#ff2a2a"}, "value": "#222222"}}},
 {"data": {"values": [{}]}, "mark": {"type": "text", "align": "center", "baseline": "alphabetic", "dy": -8, "fontSize": 13, "color": "#333333"},
  "encoding": {"x": {"datum": 2.236, "axis": null}, "y": {"datum": 10, "axis": null}, "text": {"value": "rₛ=0.05±0.21"}}},
 {"data": {"values": [{}]}, "mark": {"type": "text", "align": "right", "baseline": "alphabetic", "dx": -18, "dy": -19, "fontSize": 27, "fontWeight": "bold", "font": "Liberation Serif", "color": "#000000"},
  "encoding": {"x": {"datum": 100, "axis": null}, "y": {"datum": 0.001, "axis": null}, "text": {"value": "(e)"}}}
]
},
{
"width": 264, "height": 264,
"resolve": {"axis": {"x": "independent", "y": "independent"}},
"layer": [
 {"data": {"name": "gal"}, "transform": [{"filter": "datum.agn !== 'none'"}],
  "mark": {"type": "point", "shape": "circle", "filled": false, "opacity": 1, "size": 230},
  "encoding": {
   "x": {"field": "mtf", "type": "quantitative", "scale": {"type": "log", "domain": [0.05, 100], "nice": false}, "axis": {"orient": "bottom", "title": "MTF (10¹⁰Mₛₒₗₐᵣ)", "values": [0.05,0.06,0.07,0.08,0.09,0.1,0.2,0.3,0.4,0.5,0.6,0.7,0.8,0.9,1,2,3,4,5,6,7,8,9,10,20,30,40,50,60,70,80,90,100], "labelExpr": "datum.value===0.001?'10⁻³':datum.value===0.01?'10⁻²':datum.value===0.1?'10⁻¹':datum.value===1?'1':datum.value===10?'10¹':datum.value===100?'10²':''", "labelPadding": 15, "titlePadding": 5}},
   "y": {"field": "l16", "type": "quantitative", "scale": {"type": "log", "domain": [0.001, 5], "nice": false}, "axis": {"orient": "left", "title": "L₁.₆GHz (10³⁸ergs s⁻¹)", "values": [0.001,0.002,0.003,0.004,0.005,0.006,0.007,0.008,0.009,0.01,0.02,0.03,0.04,0.05,0.06,0.07,0.08,0.09,0.1,0.2,0.3,0.4,0.5,0.6,0.7,0.8,0.9,1,2,3,4,5], "labelExpr": "datum.value===0.001?'10⁻³':datum.value===0.01?'10⁻²':datum.value===0.1?'10⁻¹':datum.value===1?'1':datum.value===10?'10¹':datum.value===100?'10²':''", "labelPadding": 10, "titlePadding": 6}},
   "stroke": {"condition": {"test": "datum.agn==='strong'", "value": "#1e1eff"}, "value": "#8c8cff"},
   "strokeWidth": {"condition": {"test": "datum.agn==='strong'", "value": 1.8}, "value": 1}}},
 {"data": {"name": "gal"}, "transform": [{"filter": "datum.type==='Early'"}],
  "mark": {"type": "point", "shape": "circle", "filled": true, "opacity": 1, "strokeWidth": 1},
  "encoding": {
   "x": {"field": "mtf", "type": "quantitative", "axis": null},
   "y": {"field": "l16", "type": "quantitative", "axis": null},
   "size": {"condition": {"test": "datum.env==='Clustered'", "value": 110}, "value": 60},
   "fill": {"condition": {"test": "datum.env==='Clustered'", "value": "#000000"}, "value": "#ffffff"},
   "stroke": {"condition": {"test": "datum.env==='Clustered'", "value": "#000000"}, "value": "#777777"}}},
 {"data": {"name": "gal"}, "transform": [{"filter": "datum.type==='Late'"}],
  "mark": {"type": "point", "shape": "M0,-1L0.22,-0.22L1,0L0.22,0.22L0,1L-0.22,0.22L-1,0L-0.22,-0.22Z", "filled": true, "opacity": 1, "size": 100, "strokeWidth": 0.8},
  "encoding": {
   "x": {"field": "mtf", "type": "quantitative", "axis": null},
   "y": {"field": "l16", "type": "quantitative", "axis": null},
   "fill": {"condition": [{"test": "datum.env==='Clustered' && datum.sb==='Starburst'", "value": "#ff0000"}, {"test": "datum.env==='Clustered'", "value": "#000000"}, {"test": "datum.sb==='Starburst'", "value": "#ffd6d6"}], "value": "#e4e4e4"},
   "stroke": {"condition": [{"test": "datum.env==='Clustered' && datum.sb==='Starburst'", "value": "#ff0000"}, {"test": "datum.env==='Clustered'", "value": "#000000"}, {"test": "datum.sb==='Starburst'", "value": "#ff7070"}], "value": "#808080"}}},
 {"data": {"name": "gal"}, "transform": [{"filter": "datum.env==='Field'"}],
  "mark": {"type": "point", "shape": "circle", "filled": true, "opacity": 1, "size": 5},
  "encoding": {
   "x": {"field": "mtf", "type": "quantitative", "axis": null},
   "y": {"field": "l16", "type": "quantitative", "axis": null},
   "fill": {"condition": {"test": "datum.sb==='Starburst'", "value": "#ff3030"}, "value": "#555555"}}},
 {"data": {"name": "gal"},
  "mark": {"type": "text", "baseline": "bottom", "dy": -3, "fontSize": 8.7},
  "encoding": {
   "x": {"field": "mtf", "type": "quantitative", "axis": {"orient": "top", "labels": false, "title": null, "values": [0.05,0.06,0.07,0.08,0.09,0.1,0.2,0.3,0.4,0.5,0.6,0.7,0.8,0.9,1,2,3,4,5,6,7,8,9,10,20,30,40,50,60,70,80,90,100]}},
   "y": {"field": "l16", "type": "quantitative", "axis": {"orient": "right", "labels": false, "title": null, "values": [0.001,0.002,0.003,0.004,0.005,0.006,0.007,0.008,0.009,0.01,0.02,0.03,0.04,0.05,0.06,0.07,0.08,0.09,0.1,0.2,0.3,0.4,0.5,0.6,0.7,0.8,0.9,1,2,3,4,5]}},
   "text": {"field": "name"},
   "color": {"condition": {"test": "datum.sb==='Starburst'", "value": "#ff2a2a"}, "value": "#222222"}}},
 {"data": {"values": [{}]}, "mark": {"type": "text", "align": "center", "baseline": "alphabetic", "dy": -8, "fontSize": 13, "color": "#333333"},
  "encoding": {"x": {"datum": 2.236, "axis": null}, "y": {"datum": 5, "axis": null}, "text": {"value": "rₛ=0.04±0.21"}}},
 {"data": {"values": [{}]}, "mark": {"type": "text", "align": "right", "baseline": "alphabetic", "dx": -18, "dy": -19, "fontSize": 27, "fontWeight": "bold", "font": "Liberation Serif", "color": "#000000"},
  "encoding": {"x": {"datum": 100, "axis": null}, "y": {"datum": 0.001, "axis": null}, "text": {"value": "(f)"}}}
]
}
]
}
